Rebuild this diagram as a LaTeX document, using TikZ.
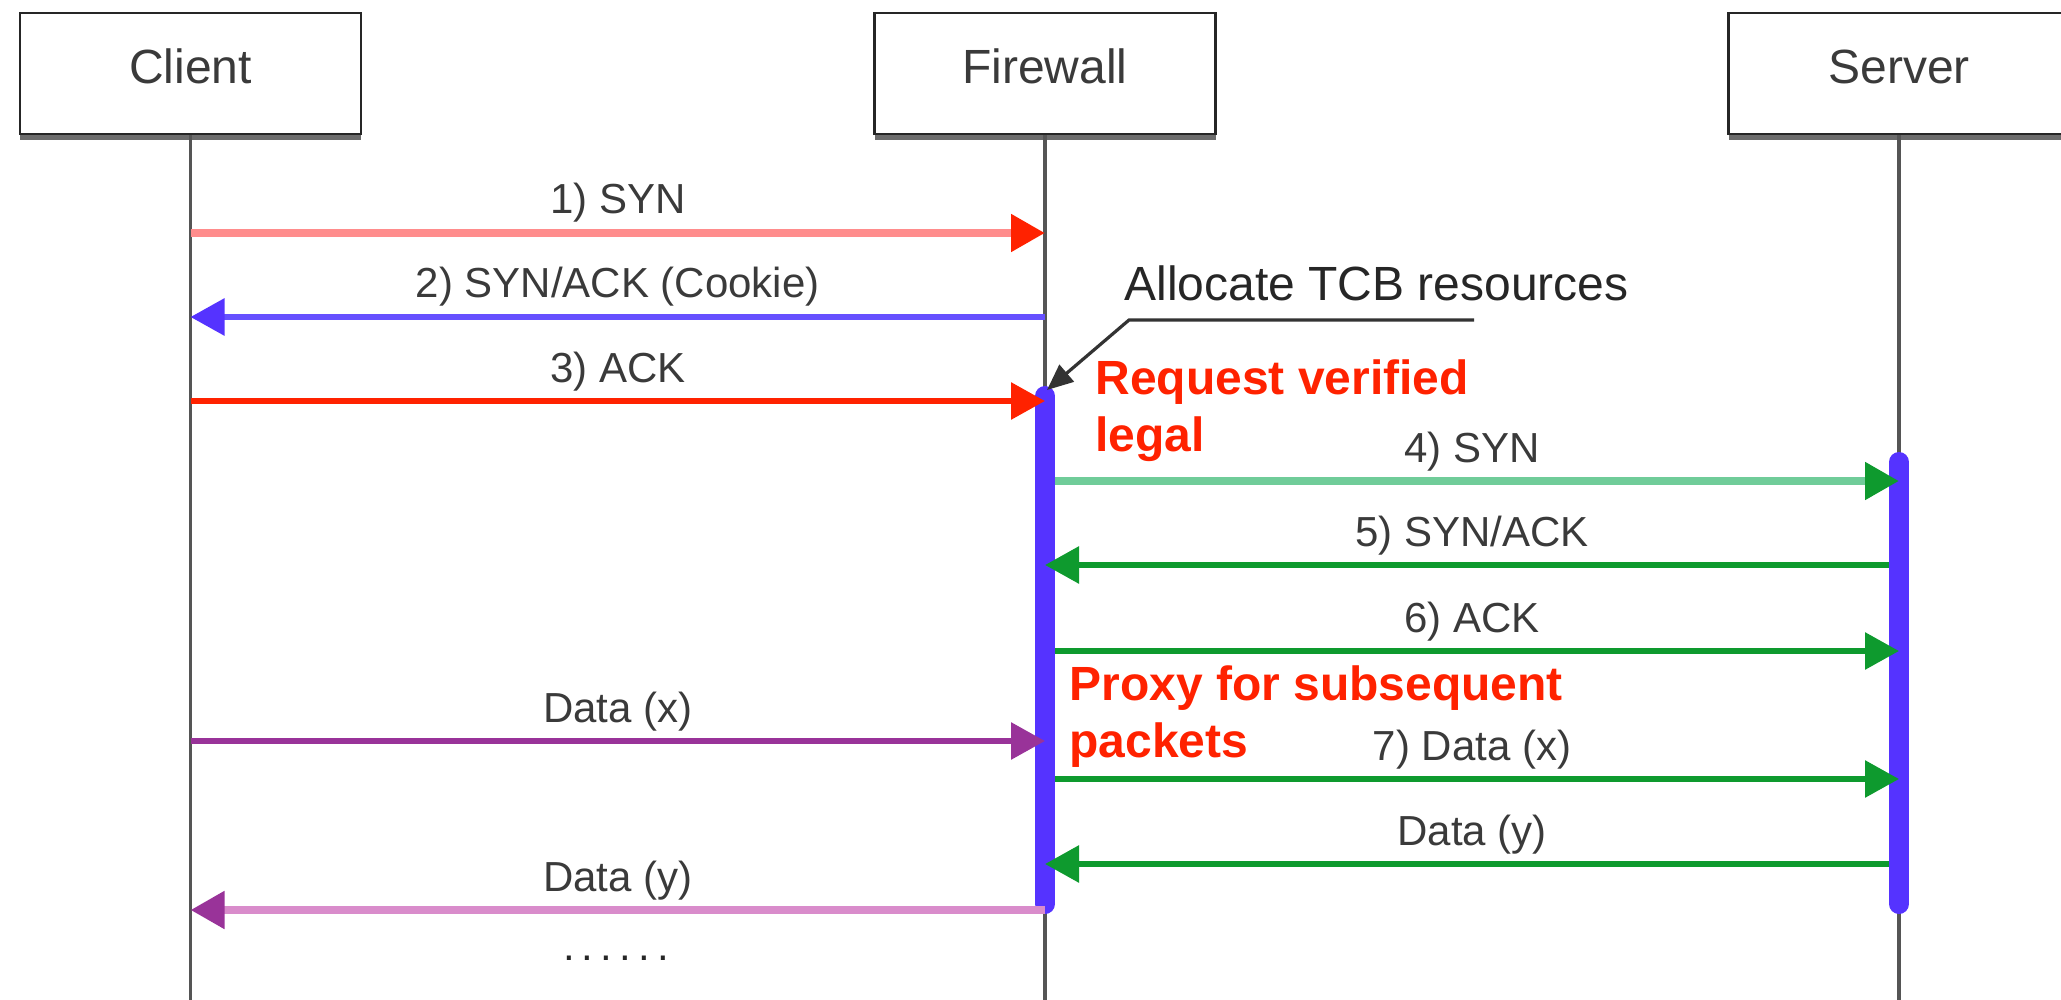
\documentclass[tikz,border=0pt]{standalone}
\usepackage{fontspec}
\setmainfont{Liberation Sans}
\usetikzlibrary{arrows.meta,shadows,calc}
\definecolor{cRedL}{HTML}{FF8C8C}
\definecolor{cRed}{HTML}{FF2200}
\definecolor{cBlue}{HTML}{5533FF}
\definecolor{cBlueL}{HTML}{6650FF}
\definecolor{cGreenL}{HTML}{70CC99}
\definecolor{cGreen}{HTML}{0E9A2E}
\definecolor{cPurple}{HTML}{993399}
\definecolor{cPinkL}{HTML}{D98CCB}
\definecolor{cText}{HTML}{3A3A3A}
\definecolor{cLife}{HTML}{555555}
\begin{document}
\begin{tikzpicture}[x=0.5pt,y=-0.5pt,
  actor/.style={draw=black!85, line width=1.3pt, fill=white, minimum width=170.5pt,
    minimum height=60.5pt, inner sep=0pt, text depth=7pt,
    font=\fontsize{24}{28}\selectfont, text=cText,
    drop shadow={shadow xshift=0pt, shadow yshift=-3pt, fill=gray!85!black, opacity=1}},
  life/.style={draw=cLife, line width=1.6pt},
  actbar/.style={draw=cBlue, line width=10pt, line cap=round},
  tipr/.style={-{Triangle[length=17pt,width=18pt,color=#1]}},
  msg/.style={line width=3pt},
  msgL/.style={line width=4pt},
  lbl/.style={anchor=base, yshift=9.5pt, inner sep=0pt, font=\fontsize{21}{24}\selectfont, text=cText},
  note/.style={inner sep=0pt, font=\fontsize{24}{28.5}\selectfont\bfseries, text=cRed, align=left, anchor=north west},
  annot/.style={draw=black!80, line width=1.6pt, -{Triangle[length=13pt,width=11pt]}}
]
\clip (0,0) rectangle (2061,1000);
\useasboundingbox (0,0) rectangle (2061,1000);

% actors
\node[actor] (client) at (190.5,73.5) {Client};
\node[actor] (fw) at (1045,73.5) {Firewall};
\node[actor] (srv) at (1899,73.5) {Server};

% lifeline ends
\coordinate (cEnd) at (190.5,1000);
\coordinate (fEnd) at (1045,1000);
\coordinate (sEnd) at (1899,1000);
\draw[life] (client.south) -- (cEnd);
\draw[life] (fw.south) -- (fEnd);
\draw[life] (srv.south) -- (sEnd);

% activation bars
\coordinate (fwTop) at (1045,396);
\coordinate (fwBot) at (1045,904);
\coordinate (svTop) at (1899,462);
\coordinate (svBot) at (1899,904);
\draw[actbar] (fwTop) -- (fwBot);
\draw[actbar] (svTop) -- (svBot);

% message end points
\coordinate (c1) at (190.5,233); \coordinate (f1) at (1045,233);
\coordinate (c2) at (190.5,317); \coordinate (f2) at (1045,317);
\coordinate (c3) at (190.5,401); \coordinate (f3) at (1045,401);
\coordinate (f4) at (1045,481); \coordinate (s4) at (1899,481);
\coordinate (f5) at (1045,565); \coordinate (s5) at (1899,565);
\coordinate (f6) at (1045,651); \coordinate (s6) at (1899,651);
\coordinate (c7) at (190.5,741); \coordinate (f7) at (1045,741);
\coordinate (f8) at (1045,779); \coordinate (s8) at (1899,779);
\coordinate (f9) at (1045,864); \coordinate (s9) at (1899,864);
\coordinate (f10) at (1045,910); \coordinate (c10) at (190.5,910);

% messages
\draw[msgL, draw=cRedL, tipr=cRed] (c1) -- node[lbl]{1) SYN} (f1);
\draw[msg, draw=cBlueL, tipr=cBlue] (f2) -- node[lbl]{2) SYN/ACK (Cookie)} (c2);
\draw[msg, draw=cRed, tipr=cRed] (c3) -- node[lbl]{3) ACK} (f3);
\draw[msgL, draw=cGreenL, tipr=cGreen, shorten <=5pt] (f4) -- node[lbl]{4) SYN} (s4);
\draw[msg, draw=cGreen, tipr=cGreen, shorten <=5pt] (s5) -- node[lbl]{5) SYN/ACK} (f5);
\draw[msg, draw=cGreen, tipr=cGreen, shorten <=5pt] (f6) -- node[lbl]{6) ACK} (s6);
\draw[msg, draw=cPurple, tipr=cPurple] (c7) -- node[lbl]{Data (x)} (f7);
\draw[msg, draw=cGreen, tipr=cGreen, shorten <=5pt] (f8) -- node[lbl]{7) Data (x)} (s8);
\draw[msg, draw=cGreen, tipr=cGreen, shorten <=5pt] (s9) -- node[lbl]{Data (y)} (f9);
\draw[msgL, draw=cPinkL, tipr=cPurple] (f10) -- node[lbl]{Data (y)} (c10);

% annotation
\node[inner sep=0pt, anchor=base west, font=\fontsize{24}{28}\selectfont, text=black!85] (alloc) at (1124,300) {Allocate TCB resources};
\coordinate (annR) at (1474,320);
\coordinate (annK) at (1129,320);
\coordinate (annTip) at (1047,390);
\draw[annot] (annR) -- (annK) -- (annTip);

% red notes
\node[note] (verified) at (1095,359) {Request verified\\legal};
\node[note] (proxy) at (1069,665) {Proxy for subsequent\\packets};

% continuation dots
\node[inner sep=0pt, anchor=base, font=\fontsize{21}{24}\selectfont, text=black!85] (dots) at (616,960) {.\kern3.6pt.\kern3.6pt.\kern3.6pt.\kern3.6pt.\kern3.6pt.};
\end{tikzpicture}
\end{document}
